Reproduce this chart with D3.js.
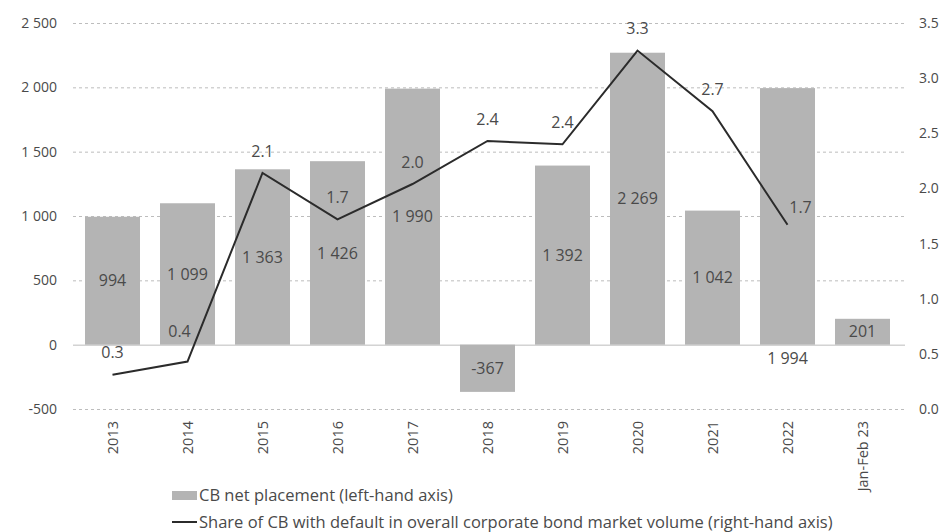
<!DOCTYPE html>
<html>
<head>
<meta charset="utf-8">
<script src="https://cdn.jsdelivr.net/npm/d3@7"></script>
<style>
  body { margin: 0; background: #fff; }
  svg text { font-family: "Open Sans", "Noto Sans", sans-serif; fill: #4a4a4a; }
</style>
</head>
<body>
<div id="chart"></div>
<script>

// Data
const years = ['2013', '2014', '2015', '2016', '2017', '2018', '2019', '2020', '2021', '2022', 'Jan-Feb 23']
const placement = [994, 1099, 1363, 1426, 1990, -367, 1392, 2269, 1042, 1994, 201]
const defaultShare = [0.31, 0.43, 2.14, 1.72, 2.04, 2.43, 2.40, 3.25, 2.70, 1.67, null]
const defaultLabels = ['0.3', '0.4', '2.1', '1.7', '2.0', '2.4', '2.4', '3.3', '2.7', '1.7', null]
const leftTicks = [-500, 0, 500, 1000, 1500, 2000, 2500]
const rightTicks = [0, 0.5, 1, 1.5, 2, 2.5, 3, 3.5]
const legendLabels = [
  'CB net placement (left-hand axis)',
  'Share of CB with default in overall corporate bond market volume (right-hand axis)'
]

const width = 947, height = 532
const plot = { left: 73, right: 905, top: 23, bottom: 409 }

const loc = d3.formatLocale({ decimal: '.', thousands: '\u00a0', grouping: [3], currency: ['', ''], minus: '-' })
const fmt = loc.format(',')

const svg = d3.select('#chart').append('svg')
  .attr('width', width)
  .attr('height', height)

// Scales

const x = d3.scaleBand()
  .domain(years)
  .range([75, 900])
  .paddingInner(0.2667)
  .paddingOuter(0.1333)

const yL = d3.scaleLinear().domain([-500, 2500]).range([plot.bottom, plot.top])
const yR = d3.scaleLinear().domain([0, 3.5]).range([plot.bottom, plot.top])

// Grid + axes

function leftAxis(g) {
  g.call(d3.axisLeft(yL).tickValues(leftTicks).tickSize(-(plot.right - plot.left)).tickPadding(16).tickFormat(fmt))
  g.select('.domain').remove()
  g.selectAll('.tick line')
    .attr('stroke', '#bdbdbd')
    .attr('stroke-dasharray', d => d === 0 ? null : '3,3')
  g.selectAll('.tick text')
    .attr('font-size', 14)
}
svg.append('g')
  .attr('transform', 'translate(' + plot.left + ',0)')
  .call(leftAxis)

function rightAxis(g) {
  g.call(d3.axisRight(yR).tickValues(rightTicks).tickSize(0).tickPadding(14).tickFormat(d3.format('.1f')))
  g.select('.domain').remove()
  g.selectAll('.tick text')
    .attr('font-size', 14)
}
svg.append('g')
  .attr('transform', 'translate(' + plot.right + ',0)')
  .call(rightAxis)

// Bars

const rows = years.map((y, i) => ({ year: y, value: placement[i], share: defaultShare[i], shareLabel: defaultLabels[i] }))

svg.append('g').selectAll('rect')
  .data(rows)
  .enter().append('rect')
    .attr('x', d => x(d.year))
    .attr('width', x.bandwidth())
    .attr('y', d => yL(Math.max(0, d.value)))
    .attr('height', d => Math.abs(yL(d.value) - yL(0)))
    .attr('fill', '#b4b4b4')

svg.append('g').selectAll('text')
  .data(rows)
  .enter().append('text')
    .attr('x', d => x(d.year) + x.bandwidth() / 2)
    .attr('y', d => d.year === '2022' ? yL(0) + 14 : yL(d.value / 2))
    .attr('dy', '0.35em')
    .attr('text-anchor', 'middle')
    .attr('font-size', 16)
    .text(d => fmt(d.value))

// Line

const lineRows = rows.filter(d => d.share !== null)

const line = d3.line()
  .x(d => x(d.year) + x.bandwidth() / 2)
  .y(d => yR(d.share))

svg.append('path')
  .datum(lineRows)
  .attr('d', line)
  .attr('fill', 'none')
  .attr('stroke', '#2b2b2b')
  .attr('stroke-width', 2)

// label nudges so they don't sit on the line
const nudgeX = d => d.year === '2022' ? 13 : d.year === '2014' ? -8 : 0
const nudgeY = d => d.year === '2022' ? 17 : d.year === '2014' ? 30 : 22

svg.append('g').selectAll('text')
  .data(lineRows)
  .enter().append('text')
    .attr('x', d => x(d.year) + x.bandwidth() / 2 + nudgeX(d))
    .attr('y', d => yR(d.share) - nudgeY(d))
    .attr('dy', '0.35em')
    .attr('text-anchor', 'middle')
    .attr('font-size', 16)
    .text(d => d.shareLabel)

// Category labels

svg.append('g').selectAll('text')
  .data(years)
  .enter().append('text')
    .attr('transform', d => 'translate(' + (x(d) + x.bandwidth() / 2) + ',' + 421 + ') rotate(-90)')
    .attr('text-anchor', 'end')
    .attr('dy', '0.35em')
    .attr('font-size', 14.5)
    .text(d => d)

// Legend

const legend = svg.append('g')

legend.append('rect')
  .attr('x', 172).attr('y', 491)
  .attr('width', 25).attr('height', 9)
  .attr('fill', '#b4b4b4')

legend.append('line')
  .attr('x1', 172).attr('x2', 197)
  .attr('y1', 522).attr('y2', 522)
  .attr('stroke', '#2b2b2b')
  .attr('stroke-width', 2)

legend.selectAll('text')
  .data(legendLabels)
  .enter().append('text')
    .attr('x', 199)
    .attr('y', (d, i) => 495 + i * 27)
    .attr('dy', '0.35em')
    .attr('font-size', 16.5)
    .text(d => d)

</script>
</body>
</html>
